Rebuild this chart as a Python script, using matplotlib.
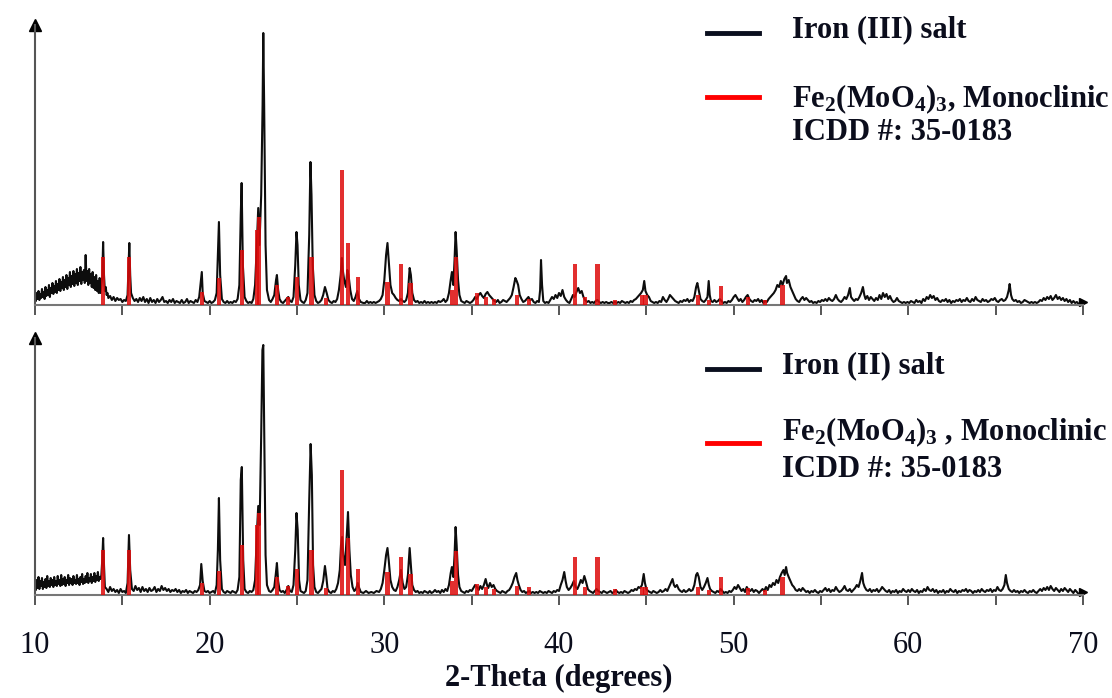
import matplotlib
matplotlib.use("Agg")
import matplotlib.pyplot as plt
from matplotlib.lines import Line2D

plt.rcParams['font.family'] = 'Liberation Serif'
plt.rcParams['mathtext.fontset'] = 'custom'
plt.rcParams['mathtext.rm'] = 'Liberation Serif:bold'
plt.rcParams['mathtext.it'] = 'Liberation Serif:bold'
plt.rcParams['mathtext.bf'] = 'Liberation Serif:bold'

# measured XRD traces, intensity in arbitrary units (height above baseline)
top_trace = [
    (10.00, 10), (10.05, 4), (10.10, 12), (10.15, 6), (10.20, 14), (10.25, 5), (10.30, 11), (10.35, 7),
    (10.40, 16), (10.45, 8), (10.50, 13), (10.55, 6), (10.60, 18), (10.65, 9), (10.70, 15), (10.75, 10),
    (10.80, 20), (10.85, 8), (10.90, 17), (10.95, 12), (11.00, 22), (11.05, 11), (11.10, 19), (11.15, 13),
    (11.20, 24), (11.25, 12), (11.30, 21), (11.35, 15), (11.40, 26), (11.45, 14), (11.50, 23), (11.55, 17),
    (11.60, 28), (11.65, 15), (11.70, 25), (11.75, 18), (11.80, 30), (11.85, 16), (11.90, 27), (11.95, 20),
    (12.00, 33), (12.05, 18), (12.10, 29), (12.15, 21), (12.20, 34), (12.25, 19), (12.30, 31), (12.35, 22),
    (12.40, 36), (12.45, 20), (12.50, 32), (12.55, 24), (12.60, 38), (12.65, 21), (12.70, 33), (12.75, 25),
    (12.80, 35), (12.85, 22), (12.90, 50), (12.95, 24), (13.00, 34), (13.05, 20), (13.10, 36), (13.15, 22),
    (13.20, 31), (13.25, 18), (13.30, 33), (13.35, 17), (13.40, 28), (13.45, 15), (13.50, 30), (13.55, 14),
    (13.60, 24), (13.65, 12), (13.70, 27), (13.75, 12), (13.80, 20), (13.85, 28), (13.90, 63), (13.95, 30),
    (14.00, 14), (14.05, 18), (14.10, 10), (14.15, 12), (14.20, 7), (14.30, 9), (14.40, 5), (14.50, 8),
    (14.60, 4), (14.70, 7), (14.80, 5), (14.90, 6), (15.00, 3), (15.10, 5), (15.20, 4), (15.30, 10),
    (15.40, 62), (15.45, 30), (15.50, 12), (15.60, 7), (15.70, 4), (15.80, 6), (15.90, 3), (16.00, 7),
    (16.10, 4), (16.20, 8), (16.30, 3), (16.40, 6), (16.50, 2), (16.60, 7), (16.70, 3), (16.80, 5),
    (16.90, 2), (17.00, 6), (17.10, 3), (17.20, 5), (17.30, 8), (17.40, 3), (17.50, 4), (17.60, 2),
    (17.70, 5), (17.80, 3), (17.90, 6), (18.00, 2), (18.10, 4), (18.20, 3), (18.30, 2), (18.40, 5),
    (18.50, 2), (18.60, 3), (18.70, 6), (18.80, 2), (18.90, 4), (19.00, 3), (19.10, 2), (19.20, 5),
    (19.30, 3), (19.40, 8), (19.50, 24), (19.55, 33), (19.60, 12), (19.70, 4), (19.80, 3), (19.90, 2),
    (20.00, 4), (20.10, 2), (20.20, 3), (20.30, 5), (20.40, 12), (20.48, 55), (20.53, 83), (20.60, 30),
    (20.70, 6), (20.80, 3), (20.90, 2), (21.00, 4), (21.10, 2), (21.20, 3), (21.30, 2), (21.40, 4),
    (21.50, 3), (21.60, 6), (21.70, 20), (21.78, 90), (21.83, 122), (21.90, 40), (22.00, 8), (22.10, 4),
    (22.20, 2), (22.30, 3), (22.40, 2), (22.50, 6), (22.60, 20), (22.70, 60), (22.78, 97), (22.85, 60),
    (22.95, 110), (23.03, 200), (23.07, 272), (23.12, 200), (23.20, 60), (23.28, 15), (23.40, 5), (23.50, 3),
    (23.60, 6), (23.70, 10), (23.80, 25), (23.85, 30), (23.92, 15), (24.00, 6), (24.10, 3), (24.20, 2),
    (24.30, 4), (24.40, 6), (24.50, 8), (24.60, 4), (24.70, 3), (24.80, 8), (24.90, 40), (24.97, 73),
    (25.03, 60), (25.10, 20), (25.20, 5), (25.30, 3), (25.40, 2), (25.50, 5), (25.60, 12), (25.70, 70),
    (25.77, 143), (25.83, 110), (25.90, 40), (26.00, 10), (26.10, 4), (26.20, 2), (26.30, 3), (26.40, 5),
    (26.50, 10), (26.60, 18), (26.70, 12), (26.80, 5), (26.90, 3), (27.00, 2), (27.10, 4), (27.20, 3),
    (27.30, 6), (27.40, 15), (27.50, 30), (27.57, 47), (27.62, 35), (27.70, 25), (27.80, 18), (27.88, 35),
    (27.95, 30), (28.05, 15), (28.15, 6), (28.25, 4), (28.35, 8), (28.45, 14), (28.55, 6), (28.65, 3),
    (28.80, 2), (28.90, 2), (29.00, 4), (29.10, 2), (29.20, 3), (29.30, 2), (29.40, 3), (29.50, 2),
    (29.60, 3), (29.70, 4), (29.80, 6), (29.90, 10), (30.00, 25), (30.10, 50), (30.18, 62), (30.25, 45),
    (30.35, 20), (30.45, 12), (30.55, 10), (30.65, 7), (30.75, 5), (30.85, 4), (30.95, 6), (31.05, 4),
    (31.15, 3), (31.25, 5), (31.35, 12), (31.45, 37), (31.52, 30), (31.60, 12), (31.70, 5), (31.80, 3),
    (31.90, 4), (32.00, 2), (32.10, 3), (32.20, 2), (32.30, 4), (32.40, 2), (32.50, 3), (32.60, 2),
    (32.70, 3), (32.80, 2), (32.90, 3), (33.00, 2), (33.10, 4), (33.20, 3), (33.30, 4), (33.40, 6),
    (33.50, 3), (33.60, 5), (33.70, 12), (33.80, 25), (33.87, 33), (33.95, 20), (34.02, 45), (34.08, 73),
    (34.14, 55), (34.22, 25), (34.30, 10), (34.40, 4), (34.50, 3), (34.60, 2), (34.70, 4), (34.80, 3),
    (34.90, 2), (35.00, 3), (35.10, 5), (35.20, 8), (35.30, 6), (35.40, 10), (35.50, 12), (35.60, 9),
    (35.70, 7), (35.80, 11), (35.90, 13), (36.00, 10), (36.10, 8), (36.20, 6), (36.30, 4), (36.40, 3),
    (36.50, 5), (36.60, 2), (36.70, 3), (36.80, 5), (36.90, 4), (37.00, 3), (37.10, 5), (37.20, 7),
    (37.30, 10), (37.40, 18), (37.50, 27), (37.58, 24), (37.66, 20), (37.75, 10), (37.85, 6), (37.95, 3),
    (38.05, 4), (38.15, 6), (38.25, 8), (38.35, 5), (38.45, 6), (38.55, 3), (38.65, 2), (38.75, 4),
    (38.85, 3), (38.92, 15), (38.97, 45), (39.03, 20), (39.10, 4), (39.20, 2), (39.30, 3), (39.40, 2),
    (39.50, 5), (39.60, 8), (39.70, 6), (39.80, 10), (39.90, 7), (40.00, 12), (40.10, 9), (40.20, 15),
    (40.30, 8), (40.40, 5), (40.50, 3), (40.60, 2), (40.70, 6), (40.80, 10), (40.90, 8), (41.00, 13),
    (41.10, 17), (41.20, 12), (41.30, 14), (41.40, 8), (41.50, 5), (41.60, 3), (41.70, 4), (41.80, 2),
    (41.90, 3), (42.00, 2), (42.10, 4), (42.20, 5), (42.30, 3), (42.40, 2), (42.50, 3), (42.60, 2),
    (42.70, 3), (42.80, 2), (42.90, 2), (43.00, 3), (43.10, 2), (43.20, 3), (43.30, 2), (43.40, 3),
    (43.50, 2), (43.60, 4), (43.70, 3), (43.80, 2), (43.90, 3), (44.00, 2), (44.10, 4), (44.20, 3),
    (44.30, 5), (44.40, 6), (44.50, 8), (44.60, 10), (44.70, 12), (44.80, 15), (44.88, 24), (44.95, 14),
    (45.05, 10), (45.15, 8), (45.25, 4), (45.35, 3), (45.45, 2), (45.55, 3), (45.65, 2), (45.75, 4),
    (45.85, 3), (45.95, 8), (46.05, 5), (46.15, 3), (46.25, 6), (46.35, 10), (46.45, 8), (46.55, 6),
    (46.65, 4), (46.75, 3), (46.85, 2), (46.95, 4), (47.05, 3), (47.15, 5), (47.25, 4), (47.35, 6),
    (47.45, 3), (47.55, 5), (47.65, 4), (47.75, 8), (47.85, 18), (47.92, 22), (48.00, 15), (48.10, 6),
    (48.20, 4), (48.30, 3), (48.40, 5), (48.50, 8), (48.57, 24), (48.63, 10), (48.70, 4), (48.80, 3),
    (48.90, 5), (49.00, 3), (49.10, 4), (49.20, 6), (49.30, 4), (49.40, 2), (49.50, 3), (49.60, 2),
    (49.70, 4), (49.80, 3), (49.90, 5), (50.00, 8), (50.10, 10), (50.20, 7), (50.30, 4), (50.40, 6),
    (50.50, 3), (50.60, 5), (50.70, 8), (50.80, 10), (50.90, 6), (51.00, 4), (51.10, 3), (51.20, 5),
    (51.30, 4), (51.40, 6), (51.50, 3), (51.60, 5), (51.70, 2), (51.80, 4), (51.90, 3), (52.00, 6),
    (52.10, 8), (52.20, 10), (52.30, 12), (52.40, 15), (52.50, 20), (52.60, 18), (52.70, 24), (52.80, 20),
    (52.90, 26), (53.00, 29), (53.05, 22), (53.15, 25), (53.25, 18), (53.35, 14), (53.45, 10), (53.55, 6),
    (53.65, 4), (53.75, 3), (53.85, 6), (53.95, 8), (54.05, 5), (54.15, 7), (54.25, 5), (54.35, 3),
    (54.45, 4), (54.55, 2), (54.65, 3), (54.75, 2), (54.85, 4), (54.95, 3), (55.05, 5), (55.15, 4),
    (55.25, 6), (55.35, 4), (55.45, 7), (55.55, 5), (55.65, 4), (55.75, 6), (55.85, 10), (55.95, 6),
    (56.05, 4), (56.15, 3), (56.25, 5), (56.35, 8), (56.45, 6), (56.55, 10), (56.65, 17), (56.72, 8),
    (56.80, 6), (56.90, 4), (57.00, 6), (57.10, 5), (57.20, 8), (57.30, 12), (57.40, 18), (57.48, 10),
    (57.55, 6), (57.65, 9), (57.75, 5), (57.85, 8), (57.95, 6), (58.05, 4), (58.15, 7), (58.25, 5),
    (58.35, 10), (58.45, 6), (58.55, 12), (58.65, 8), (58.75, 11), (58.85, 6), (58.95, 9), (59.05, 5),
    (59.15, 3), (59.25, 4), (59.35, 7), (59.45, 4), (59.55, 3), (59.65, 2), (59.75, 3), (59.85, 2),
    (59.95, 3), (60.05, 2), (60.15, 4), (60.25, 3), (60.35, 2), (60.45, 5), (60.55, 3), (60.65, 4),
    (60.75, 2), (60.85, 6), (60.95, 4), (61.05, 8), (61.15, 6), (61.25, 10), (61.35, 7), (61.45, 9),
    (61.55, 5), (61.65, 7), (61.75, 4), (61.85, 3), (61.95, 5), (62.05, 4), (62.15, 6), (62.25, 3),
    (62.35, 5), (62.45, 2), (62.55, 4), (62.65, 3), (62.75, 5), (62.85, 4), (62.95, 6), (63.05, 3),
    (63.15, 5), (63.25, 4), (63.35, 7), (63.45, 4), (63.55, 3), (63.65, 6), (63.75, 4), (63.85, 8),
    (63.95, 5), (64.05, 4), (64.15, 3), (64.25, 6), (64.35, 4), (64.45, 5), (64.55, 3), (64.65, 4),
    (64.75, 6), (64.85, 5), (64.95, 7), (65.05, 4), (65.15, 3), (65.25, 5), (65.35, 6), (65.45, 4),
    (65.55, 5), (65.65, 8), (65.75, 15), (65.80, 21), (65.88, 10), (65.95, 6), (66.05, 4), (66.15, 5),
    (66.25, 3), (66.35, 4), (66.45, 2), (66.55, 3), (66.65, 5), (66.75, 4), (66.85, 3), (66.95, 2),
    (67.05, 3), (67.15, 2), (67.25, 3), (67.35, 2), (67.45, 3), (67.55, 5), (67.65, 4), (67.75, 7),
    (67.85, 5), (67.95, 8), (68.05, 6), (68.15, 9), (68.25, 5), (68.35, 7), (68.45, 10), (68.55, 6),
    (68.65, 8), (68.75, 5), (68.85, 7), (68.95, 4), (69.05, 6), (69.15, 3), (69.25, 5), (69.35, 2),
    (69.45, 4), (69.55, 2), (69.65, 3), (69.75, 1),
]

bottom_trace = [
    (10.00, 12), (10.05, 5), (10.10, 15), (10.15, 7), (10.20, 18), (10.25, 6), (10.30, 14), (10.35, 9),
    (10.40, 17), (10.45, 6), (10.50, 13), (10.55, 8), (10.60, 16), (10.65, 7), (10.70, 19), (10.75, 9),
    (10.80, 14), (10.85, 8), (10.90, 17), (10.95, 10), (11.00, 15), (11.05, 8), (11.10, 18), (11.15, 10),
    (11.20, 14), (11.25, 9), (11.30, 19), (11.35, 11), (11.40, 15), (11.45, 9), (11.50, 20), (11.55, 10),
    (11.60, 16), (11.65, 11), (11.70, 18), (11.75, 9), (11.80, 15), (11.85, 12), (11.90, 20), (11.95, 10),
    (12.00, 17), (12.05, 12), (12.10, 16), (12.15, 10), (12.20, 19), (12.25, 12), (12.30, 15), (12.35, 11),
    (12.40, 20), (12.45, 12), (12.50, 16), (12.55, 10), (12.60, 18), (12.65, 13), (12.70, 21), (12.75, 11),
    (12.80, 16), (12.85, 12), (12.90, 19), (12.95, 13), (13.00, 22), (13.05, 12), (13.10, 17), (13.15, 14),
    (13.20, 21), (13.25, 12), (13.30, 18), (13.35, 14), (13.40, 22), (13.45, 13), (13.50, 19), (13.55, 15),
    (13.60, 23), (13.65, 14), (13.70, 18), (13.75, 16), (13.80, 20), (13.85, 35), (13.90, 57), (13.95, 30),
    (14.00, 8), (14.10, 6), (14.20, 3), (14.30, 8), (14.40, 4), (14.50, 6), (14.60, 3), (14.70, 5),
    (14.80, 2), (14.90, 6), (15.00, 3), (15.10, 4), (15.20, 2), (15.30, 12), (15.38, 60), (15.45, 25),
    (15.55, 6), (15.65, 4), (15.75, 9), (15.85, 5), (15.95, 7), (16.05, 3), (16.15, 8), (16.25, 4),
    (16.35, 6), (16.45, 3), (16.55, 7), (16.65, 4), (16.75, 5), (16.85, 8), (16.95, 3), (17.05, 6),
    (17.15, 4), (17.25, 9), (17.35, 5), (17.45, 7), (17.55, 4), (17.65, 6), (17.75, 3), (17.85, 5),
    (17.95, 4), (18.05, 6), (18.15, 3), (18.25, 5), (18.35, 2), (18.45, 4), (18.55, 3), (18.65, 5),
    (18.75, 2), (18.85, 4), (18.95, 3), (19.05, 2), (19.15, 4), (19.25, 3), (19.35, 5), (19.45, 10),
    (19.52, 31), (19.60, 14), (19.70, 4), (19.80, 3), (19.90, 4), (20.00, 2), (20.10, 3), (20.20, 4),
    (20.30, 2), (20.40, 10), (20.47, 45), (20.53, 97), (20.60, 35), (20.70, 6), (20.80, 3), (20.90, 2),
    (21.00, 4), (21.10, 3), (21.20, 2), (21.30, 4), (21.40, 3), (21.50, 2), (21.60, 5), (21.70, 18),
    (21.78, 115), (21.84, 128), (21.92, 35), (22.00, 6), (22.10, 3), (22.20, 2), (22.30, 4), (22.40, 3),
    (22.50, 5), (22.60, 15), (22.70, 60), (22.78, 89), (22.86, 70), (22.95, 160), (23.02, 245), (23.07, 250),
    (23.12, 170), (23.20, 40), (23.28, 10), (23.40, 4), (23.50, 3), (23.60, 5), (23.70, 8), (23.78, 20),
    (23.85, 32), (23.92, 14), (24.00, 5), (24.10, 3), (24.20, 4), (24.30, 2), (24.40, 5), (24.50, 9),
    (24.60, 4), (24.70, 3), (24.80, 10), (24.90, 45), (24.97, 82), (25.04, 65), (25.12, 15), (25.20, 4),
    (25.30, 3), (25.40, 2), (25.50, 4), (25.60, 15), (25.70, 95), (25.78, 151), (25.85, 120), (25.92, 30),
    (26.00, 8), (26.10, 3), (26.20, 2), (26.30, 4), (26.40, 6), (26.50, 14), (26.60, 29), (26.68, 18),
    (26.75, 6), (26.85, 3), (26.95, 2), (27.05, 4), (27.15, 3), (27.25, 6), (27.35, 12), (27.45, 25),
    (27.52, 50), (27.58, 58), (27.65, 40), (27.75, 30), (27.85, 60), (27.92, 83), (28.00, 45), (28.08, 20),
    (28.18, 8), (28.28, 4), (28.38, 6), (28.48, 12), (28.56, 7), (28.65, 3), (28.80, 2), (28.95, 4),
    (29.10, 2), (29.25, 3), (29.40, 2), (29.55, 4), (29.70, 3), (29.80, 6), (29.90, 12), (30.00, 25),
    (30.10, 40), (30.18, 47), (30.25, 35), (30.35, 15), (30.45, 8), (30.55, 5), (30.65, 4), (30.75, 8),
    (30.85, 15), (30.95, 25), (31.05, 12), (31.15, 6), (31.25, 8), (31.35, 20), (31.45, 47), (31.52, 30),
    (31.60, 10), (31.70, 5), (31.80, 3), (31.90, 4), (32.00, 2), (32.10, 3), (32.20, 2), (32.30, 4),
    (32.40, 3), (32.50, 2), (32.60, 4), (32.70, 2), (32.80, 3), (32.90, 5), (33.00, 3), (33.10, 4),
    (33.20, 2), (33.30, 5), (33.40, 3), (33.50, 6), (33.60, 4), (33.70, 10), (33.80, 22), (33.87, 28),
    (33.95, 18), (34.02, 40), (34.08, 68), (34.14, 50), (34.22, 20), (34.30, 8), (34.40, 4), (34.50, 3),
    (34.60, 2), (34.70, 4), (34.80, 3), (34.90, 5), (35.00, 4), (35.10, 7), (35.20, 10), (35.30, 8),
    (35.40, 5), (35.50, 9), (35.60, 6), (35.70, 10), (35.80, 16), (35.88, 10), (35.95, 7), (36.05, 12),
    (36.15, 8), (36.25, 10), (36.35, 6), (36.45, 4), (36.55, 3), (36.65, 2), (36.75, 4), (36.85, 3),
    (36.95, 2), (37.05, 4), (37.15, 5), (37.25, 8), (37.35, 12), (37.45, 18), (37.55, 22), (37.62, 15),
    (37.70, 10), (37.80, 5), (37.90, 3), (38.00, 4), (38.10, 2), (38.20, 3), (38.30, 4), (38.40, 2),
    (38.50, 3), (38.60, 2), (38.70, 3), (38.80, 2), (38.90, 4), (39.00, 3), (39.10, 2), (39.20, 3),
    (39.30, 2), (39.40, 4), (39.50, 3), (39.60, 2), (39.70, 4), (39.80, 3), (39.90, 5), (40.00, 4),
    (40.10, 10), (40.20, 15), (40.30, 23), (40.38, 14), (40.45, 8), (40.55, 5), (40.65, 7), (40.75, 10),
    (40.85, 14), (40.95, 8), (41.05, 6), (41.15, 10), (41.25, 15), (41.35, 12), (41.45, 19), (41.55, 13),
    (41.65, 6), (41.75, 4), (41.85, 3), (41.95, 2), (42.05, 4), (42.15, 6), (42.25, 4), (42.35, 3),
    (42.45, 2), (42.55, 4), (42.65, 3), (42.75, 2), (42.85, 3), (42.95, 4), (43.05, 2), (43.15, 3),
    (43.25, 5), (43.35, 3), (43.45, 2), (43.55, 3), (43.65, 2), (43.75, 4), (43.85, 3), (43.95, 2),
    (44.05, 3), (44.15, 5), (44.25, 4), (44.35, 6), (44.45, 5), (44.55, 8), (44.65, 7), (44.75, 10),
    (44.85, 21), (44.92, 12), (45.00, 6), (45.10, 4), (45.20, 3), (45.30, 2), (45.40, 4), (45.50, 3),
    (45.60, 2), (45.70, 3), (45.80, 5), (45.90, 3), (46.00, 4), (46.10, 6), (46.20, 4), (46.30, 8),
    (46.40, 12), (46.50, 16), (46.58, 10), (46.65, 8), (46.75, 10), (46.85, 6), (46.95, 4), (47.05, 3),
    (47.15, 5), (47.25, 3), (47.35, 4), (47.45, 6), (47.55, 4), (47.65, 5), (47.75, 10), (47.85, 20),
    (47.92, 22), (48.00, 18), (48.10, 8), (48.20, 5), (48.30, 8), (48.40, 12), (48.50, 17), (48.58, 10),
    (48.65, 6), (48.75, 4), (48.85, 3), (48.95, 2), (49.05, 4), (49.15, 3), (49.25, 6), (49.35, 4),
    (49.45, 2), (49.55, 3), (49.65, 2), (49.75, 4), (49.85, 3), (49.95, 5), (50.05, 8), (50.15, 6),
    (50.25, 10), (50.35, 7), (50.45, 4), (50.55, 6), (50.65, 3), (50.75, 8), (50.85, 5), (50.95, 4),
    (51.05, 6), (51.15, 3), (51.25, 5), (51.35, 4), (51.45, 2), (51.55, 4), (51.65, 6), (51.75, 4),
    (51.85, 8), (51.95, 5), (52.05, 10), (52.15, 8), (52.25, 12), (52.35, 10), (52.45, 15), (52.55, 12),
    (52.65, 18), (52.75, 22), (52.85, 25), (52.92, 20), (53.00, 28), (53.06, 22), (53.15, 18), (53.25, 14),
    (53.35, 10), (53.45, 8), (53.55, 5), (53.65, 4), (53.75, 6), (53.85, 4), (53.95, 7), (54.05, 5),
    (54.15, 3), (54.25, 4), (54.35, 2), (54.45, 4), (54.55, 3), (54.65, 5), (54.75, 3), (54.85, 2),
    (54.95, 4), (55.05, 3), (55.15, 5), (55.25, 7), (55.35, 4), (55.45, 6), (55.55, 3), (55.65, 5),
    (55.75, 4), (55.85, 8), (55.95, 5), (56.05, 3), (56.15, 4), (56.25, 6), (56.35, 9), (56.45, 5),
    (56.55, 4), (56.65, 6), (56.75, 3), (56.85, 5), (56.95, 7), (57.05, 10), (57.15, 8), (57.25, 14),
    (57.35, 22), (57.42, 12), (57.50, 8), (57.60, 5), (57.70, 4), (57.80, 6), (57.90, 3), (58.00, 5),
    (58.10, 4), (58.20, 6), (58.30, 3), (58.40, 5), (58.50, 8), (58.60, 6), (58.70, 4), (58.80, 3),
    (58.90, 5), (59.00, 2), (59.10, 4), (59.20, 3), (59.30, 5), (59.40, 2), (59.50, 4), (59.60, 3),
    (59.70, 6), (59.80, 4), (59.90, 3), (60.00, 5), (60.10, 3), (60.20, 6), (60.30, 4), (60.40, 3),
    (60.50, 5), (60.60, 2), (60.70, 4), (60.80, 3), (60.90, 6), (61.00, 4), (61.10, 8), (61.20, 5),
    (61.30, 4), (61.40, 6), (61.50, 3), (61.60, 5), (61.70, 2), (61.80, 4), (61.90, 3), (62.00, 5),
    (62.10, 2), (62.20, 4), (62.30, 3), (62.40, 6), (62.50, 4), (62.60, 3), (62.70, 5), (62.80, 2),
    (62.90, 4), (63.00, 3), (63.10, 5), (63.20, 4), (63.30, 6), (63.40, 3), (63.50, 5), (63.60, 4),
    (63.70, 2), (63.80, 4), (63.90, 3), (64.00, 5), (64.10, 3), (64.20, 6), (64.30, 4), (64.40, 3),
    (64.50, 5), (64.60, 4), (64.70, 6), (64.80, 3), (64.90, 5), (65.00, 4), (65.10, 8), (65.20, 5),
    (65.30, 4), (65.40, 6), (65.50, 10), (65.58, 20), (65.65, 12), (65.75, 6), (65.85, 4), (65.95, 3),
    (66.05, 5), (66.15, 3), (66.25, 4), (66.35, 2), (66.45, 4), (66.55, 3), (66.65, 5), (66.75, 3),
    (66.85, 2), (66.95, 4), (67.05, 3), (67.15, 5), (67.25, 3), (67.35, 2), (67.45, 4), (67.55, 6),
    (67.65, 4), (67.75, 7), (67.85, 5), (67.95, 8), (68.05, 5), (68.15, 9), (68.25, 6), (68.35, 4),
    (68.45, 7), (68.55, 5), (68.65, 3), (68.75, 6), (68.85, 4), (68.95, 7), (69.05, 5), (69.15, 3),
    (69.25, 6), (69.35, 4), (69.45, 2), (69.55, 5), (69.65, 3), (69.75, 1),
]

# ICDD 35-0183 reference lines, Fe2(MoO4)3 monoclinic
ref_tt = [13.90, 15.40, 19.55, 20.53, 21.83, 22.72, 22.82, 23.85, 24.50, 25.00,
          25.83, 26.65, 27.57, 27.90, 28.50, 30.18, 30.95, 31.50, 33.87, 34.10,
          35.30, 35.80, 36.30, 37.60, 38.30, 40.90, 41.50, 42.20, 43.20, 44.75,
          44.95, 47.95, 48.60, 49.27, 50.80, 51.80, 52.80]
top_ref = [48, 48, 13, 27, 55, 75, 88, 20, 8, 28,
           48, 7, 135, 62, 28, 23, 41, 22, 15, 48,
           12, 8, 6, 10, 6, 41, 8, 41, 5, 10,
           10, 10, 5, 19, 8, 5, 20]
bot_ref = [45, 45, 12, 24, 50, 70, 82, 18, 9, 26,
           45, 7, 125, 57, 26, 23, 38, 21, 14, 44,
           11, 8, 6, 9, 8, 38, 8, 38, 6, 8,
           8, 8, 5, 18, 7, 5, 18]

sample_labels = ['Iron (III) salt', 'Iron (II) salt']
ref_labels = ['Fe$_2$(MoO$_4$)$_3$, Monoclinic', 'Fe$_2$(MoO$_4$)$_3$ , Monoclinic']
icdd_label = 'ICDD #: 35-0183'
x_ticks = [10, 20, 30, 40, 50, 60, 70]

W, H = 1112, 698
fig = plt.figure(figsize=(W / 100, H / 100), dpi=100)


def px_box(left, top, right, bottom):
    return [left / W, 1 - bottom / H, (right - left) / W, (bottom - top) / H]


ax_top = fig.add_axes(px_box(35, 25, 1083, 305))
ax_bot = fig.add_axes(px_box(35, 338, 1083, 595))

text_col = '#0b0d1c'
panels = [
    (ax_top, top_trace, top_ref, 280),
    (ax_bot, bottom_trace, bot_ref, 257),
]
for ax, trace, ref, ytop in panels:
    tt = [p[0] for p in trace]
    counts = [p[1] for p in trace]
    ax.plot(tt, counts, color='#0d0d0d', lw=1.5, zorder=2)
    ax.bar(ref_tt, ref, width=0.24, color='#dd0a0a', alpha=0.85, zorder=3)
    ax.set_xlim(10, 70)
    ax.set_ylim(0, ytop)
    for s in ['top', 'right']:
        ax.spines[s].set_visible(False)
    ax.spines['left'].set_color('#555555')
    ax.spines['bottom'].set_color('#777777')
    ax.spines['left'].set_linewidth(1.5)
    ax.spines['bottom'].set_linewidth(1.5)
    ax.set_yticks([])
    ax.set_xticks(range(10, 71, 5))
    ax.tick_params(axis='x', direction='out', length=7, width=1.4, color='#555555',
                   labelbottom=False)
    ax.plot([0], [1], marker='^', ms=8, color='black', transform=ax.transAxes, clip_on=False)
    ax.plot([1], [0.01], marker='>', ms=6, color='black', transform=ax.transAxes, clip_on=False)
    ax.patch.set_alpha(0)

ax_bot.set_xticks(x_ticks, minor=False)
ax_bot.set_xticks(range(15, 70, 10), minor=True)
ax_bot.tick_params(axis='x', which='both', direction='out', length=7, width=1.4, color='#555555')
ax_bot.tick_params(axis='x', which='major', labelbottom=True, labelsize=22, pad=19,
                   labelcolor=text_col)
ax_bot.set_xticklabels([str(v) for v in x_ticks])
ax_bot.set_xlabel('2-Theta (degrees)', fontsize=22, fontweight='bold', color=text_col, labelpad=3)

# legends
legend_rows = [
    (33, 37, 97, 107, 140, 792, 0),
    (369, 373, 443, 440, 477, 782, 1),
]
for y_blk, y_txt, y_red, y_ref, y_icdd, x_txt, i in legend_rows:
    fig.add_artist(Line2D([707 / W, 759 / W], [1 - y_blk / H] * 2, color='#0a0f1e', lw=3.5))
    fig.add_artist(Line2D([707 / W, 759 / W], [1 - y_red / H] * 2, color='#ff0000', lw=3.5))
    fig.text(x_txt / W, 1 - y_txt / H, sample_labels[i], fontsize=22, fontweight='bold',
             color=text_col, va='baseline')
    fig.text(x_txt / W, 1 - y_ref / H, ref_labels[i], fontsize=22, fontweight='bold',
             color=text_col, va='baseline')
    fig.text(x_txt / W, 1 - y_icdd / H, icdd_label, fontsize=22, fontweight='bold',
             color=text_col, va='baseline')

fig.savefig('out.png', dpi=100)
